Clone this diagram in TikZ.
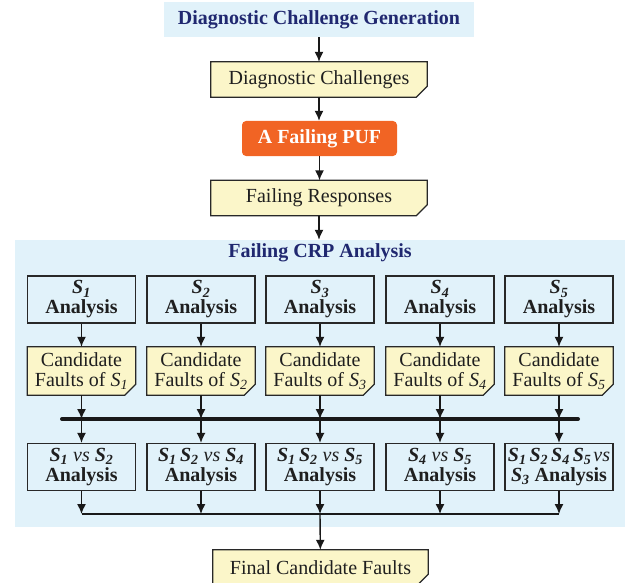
\documentclass[tikz,border=0pt]{standalone}
\usepackage{fontspec}
\setmainfont{Liberation Serif}
\usetikzlibrary{arrows.meta}
\definecolor{bgblue}{RGB}{225,242,250}
\definecolor{cream}{RGB}{251,246,201}
\definecolor{pufor}{RGB}{241,100,36}
\definecolor{navy}{RGB}{32,40,112}
\definecolor{edge}{RGB}{40,40,40}
\newcommand{\Ssub}[1]{\textit{S}\textsubscript{\textit{#1}}}
\newcommand{\vsw}{\textit{\mdseries vs}}
\pgfdeclarelayer{back}
\pgfdeclarelayer{mid}
\pgfsetlayers{back,mid,main}
\tikzset{
  txt/.style={font=\fontsize{20}{20}\selectfont, text=black!88, inner sep=0pt, align=center},
  genbox/.style={txt, font=\fontsize{20}{20}\selectfont\bfseries, text=navy, fill=bgblue, minimum width=310pt, minimum height=35pt},
  wide/.style={txt, minimum width=216pt, minimum height=35pt},
  pufbox/.style={txt, font=\fontsize{20}{20}\selectfont\bfseries, text=white, fill=pufor, rounded corners=4pt, minimum width=155pt, minimum height=35pt},
  abox/.style={txt, font=\fontsize{20}{20}\selectfont\bfseries, fill=bgblue, draw=edge, line width=1.2pt, minimum width=108pt, minimum height=47pt},
  cbox/.style={txt, font=\fontsize{20}{19.5}\selectfont, minimum width=108pt, minimum height=48pt},
  cutshape/.style={fill=cream, draw=edge, line width=1.2pt},
  arr/.style={draw=black!90, line width=1.4pt, -{Latex[length=10pt,width=9pt]}},
  ln/.style={draw=black!90, line width=1.4pt},
  region/.style={fill=bgblue, minimum width=610pt, minimum height=287pt, inner sep=0pt},
  ttl/.style={txt, font=\fontsize{20}{20}\selectfont\bfseries, text=navy}
}
\begin{document}
\begin{tikzpicture}[x=1pt,y=-1pt]
\useasboundingbox (0,0) rectangle (634,583);
\begin{pgfonlayer}{back}
\node[region] (crp) at (320,383.5) {};
\end{pgfonlayer}
\node[genbox] (gen) at (319,19.5) {Diagnostic Challenge Generation};
\node[wide] (dc) at (319,79.5) {Diagnostic Challenges};
\node[pufbox] (puf) at (319.5,138.5) {A Failing PUF};
\node[wide] (fr) at (319,198) {Failing Responses};
\node[ttl] (title) at (320,253) {Failing CRP Analysis};
% row 1
\node[abox] (a1) at (81.5,299.5) {\Ssub{1}\\Analysis};
\node[abox] (a2) at (201,299.5) {\Ssub{2}\\Analysis};
\node[abox] (a3) at (320,299.5) {\Ssub{3}\\Analysis};
\node[abox] (a4) at (440,299.5) {\Ssub{4}\\Analysis};
\node[abox] (a5) at (559,299.5) {\Ssub{5}\\Analysis};
% row 2
\node[cbox] (c1) at (81.5,371) {Candidate\\Faults of \Ssub{1}};
\node[cbox] (c2) at (201,371) {Candidate\\Faults of \Ssub{2}};
\node[cbox] (c3) at (320,371) {Candidate\\Faults of \Ssub{3}};
\node[cbox] (c4) at (440,371) {Candidate\\Faults of \Ssub{4}};
\node[cbox] (c5) at (559,371) {Candidate\\Faults of \Ssub{5}};
% row 3
\node[abox] (d1) at (81.5,467) {\Ssub{1} \vsw{} \Ssub{2}\\Analysis};
\node[abox] (d2) at (201,467) {\Ssub{1}\,\Ssub{2} \vsw{} \Ssub{4}\\Analysis};
\node[abox] (d3) at (320,467) {\Ssub{1}\,\Ssub{2} \vsw{} \Ssub{5}\\Analysis};
\node[abox] (d4) at (440,467) {\Ssub{4} \vsw{} \Ssub{5}\\Analysis};
\node[abox] (d5) at (559,467) {\Ssub{1}\hspace{0.15em}\Ssub{2}\hspace{0.15em}\Ssub{4}\hspace{0.15em}\Ssub{5}\hspace{0.1em}\vsw\\\Ssub{3} Analysis};
\node[wide, minimum width=215pt] (fin) at (320.5,567.5) {Final Candidate Faults};
% cut-corner shapes
\begin{pgfonlayer}{mid}
\foreach \n in {dc,fr,c1,c2,c3,c4,c5,fin}{
  \draw[cutshape] (\n.north west) -- (\n.north east) -- ([yshift=11pt]\n.south east)
    -- ([xshift=-11pt]\n.south east) -- (\n.south west) -- cycle;
}
\end{pgfonlayer}
% connectors
\coordinate (busL) at (62,419);
\coordinate (busR) at (578,419);
\coordinate (mrg) at (81.5,514);
\draw[arr] (gen) -- (dc);
\draw[arr] (dc) -- (dc |- puf.north);
\draw[arr] (puf) -- (puf |- fr.north);
\draw[arr] (fr) -- (fr |- crp.north);
\foreach \i in {1,...,5}{
  \draw[arr] (a\i) -- (c\i);
  \draw[arr] (c\i) -- (c\i |- busL);
  \draw[arr] (c\i |- busL) -- (d\i);
  \draw[arr] (d\i) -- (d\i |- mrg);
}
\draw[black!90, line width=4pt, line cap=round] (busL) -- (busR);
\draw[ln] (d1 |- mrg) -- (d5 |- mrg);
\draw[arr] (d3 |- mrg) -- (fin);
\end{tikzpicture}
\end{document}
